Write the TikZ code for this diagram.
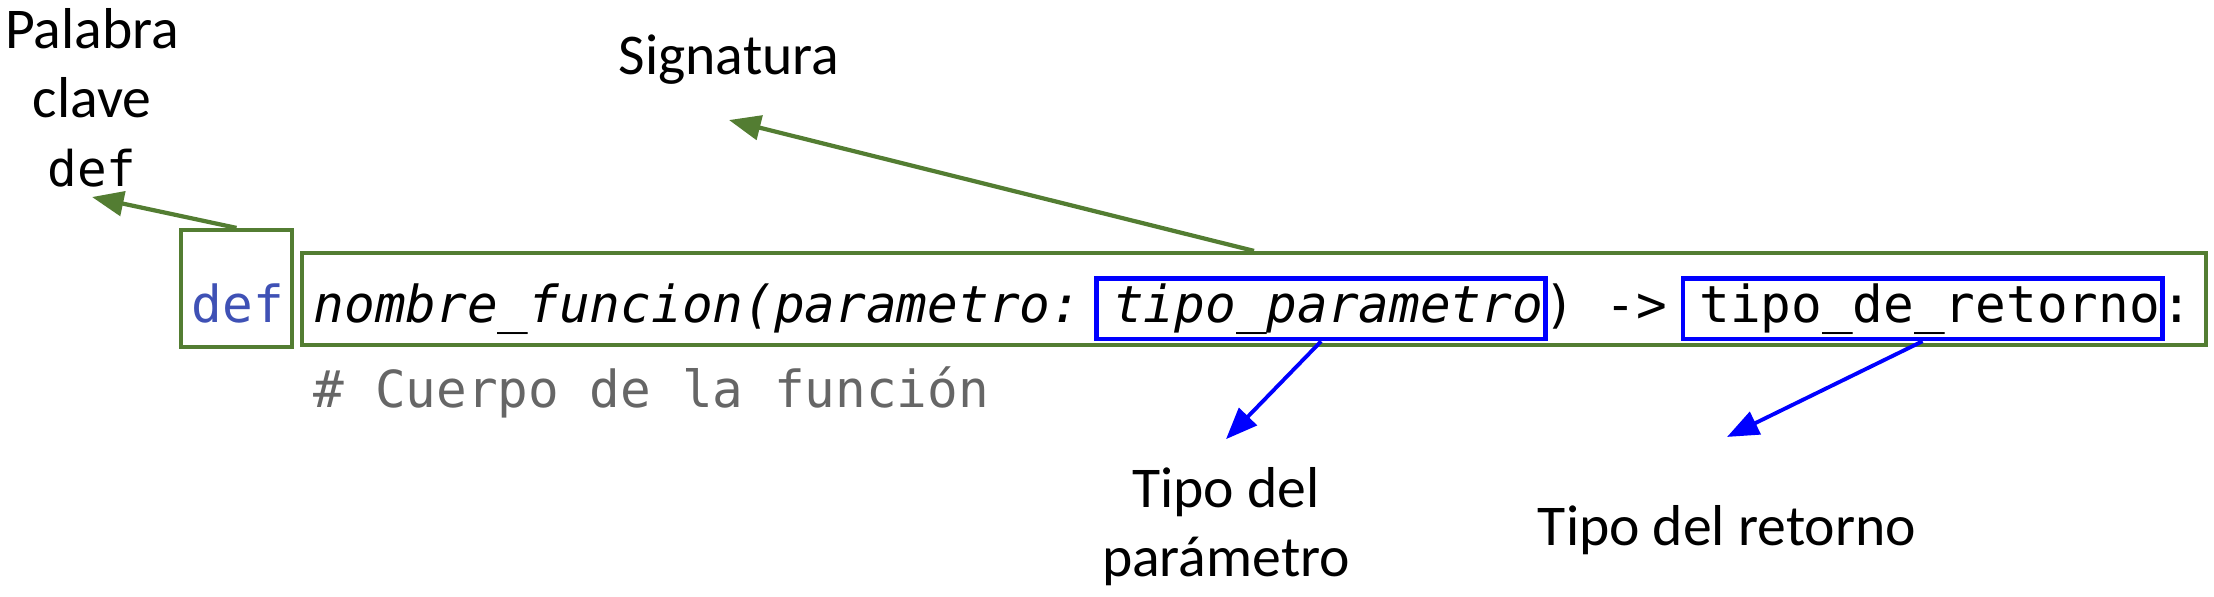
\documentclass[tikz,border=0pt]{standalone}
\usepackage{fontspec}
\setmainfont{Carlito}
\newfontfamily\codefont{DejaVu Sans Mono}
\usetikzlibrary{arrows.meta,fit,positioning}

\definecolor{sigGreen}{RGB}{83,125,50}
\definecolor{kwBlue}{RGB}{63,81,181}
\definecolor{boxBlue}{RGB}{0,0,255}
\definecolor{cmtGray}{RGB}{102,102,102}

\tikzset{
  lbl/.style={font=\fontsize{16.4}{19.6}\selectfont, align=center, inner sep=0pt},
  code/.style={font=\codefont\fontsize{14.5}{17}\selectfont, inner sep=0pt, anchor=base west},
  codeit/.style={code, font=\codefont\itshape\fontsize{14.5}{17}\selectfont},
  gbox/.style={draw=sigGreen, line width=1.2pt, inner sep=0pt},
  bbox/.style={draw=boxBlue, line width=1.3pt, inner ysep=1.2pt},
  garrow/.style={draw=sigGreen, line width=1.2pt, -{Triangle[length=9pt,width=7pt]}},
  barrow/.style={draw=boxBlue, line width=1.1pt, -{Triangle[length=9pt,width=7pt]}},
}

\begin{document}
\begin{tikzpicture}[x=0.01cm, y=-0.01cm]
\useasboundingbox (0,0) rectangle (2214,596);

\def\cw{8.73pt}  %% one character of the code font

%% Code line
\node[code, text=kwBlue] (kw) at (191,322) {def};
\node[codeit] (sname) at (313,322) {nombre\_funcion(parametro:};
\node[codeit] (ptype) at ([xshift=\cw]sname.base east) {tipo\_parametro};
\node[code] (arr) at (ptype.base east) {)\ ->};
\node[code] (rtype) at ([xshift=\cw]arr.base east) {tipo\_de\_retorno};
\node[code] (colon) at (rtype.base east) {:};
\node[code, text=cmtGray] (cmt) at (313,407) {\#\ Cuerpo de la función};

%% Boxes
\node[gbox, fit={(181,230) (292,347)}] (kwbox) {};
\node[gbox, fit={(302,253) (2206,345)}] (sigbox) {};
\node[bbox, fit={([xshift=-4pt]ptype.north west) (ptype.south east)}, inner xsep=0.5pt] (pbox) {};
\node[bbox, fit={([xshift=-4pt]rtype.north west) (rtype.south east)}, inner xsep=0.5pt] (rbox) {};

%% Labels
\node[lbl] (kwlbl) at (92,98) {Palabra\\clave\\{\codefont\fontsize{14}{19.6}\selectfont def}};
\node[lbl, anchor=base] (siglbl) at (729,74) {Signatura};
\node[lbl] (plbl) at (1226,527) {Tipo del\\parámetro};
\node[lbl, anchor=base] (rlbl) at (1727,545) {Tipo del retorno};

%% Arrows
\draw[garrow] (kwbox.north) -- ([yshift=-0.09cm]kwlbl.south);
\draw[garrow] (sigbox.north) -- ([yshift=-0.46cm]siglbl.base);
\draw[barrow] (pbox.south) -- ([yshift=0.28cm]plbl.north);
\draw[barrow] (rbox.south) -- ([yshift=1.08cm]rlbl.base);

\end{tikzpicture}
\end{document}
